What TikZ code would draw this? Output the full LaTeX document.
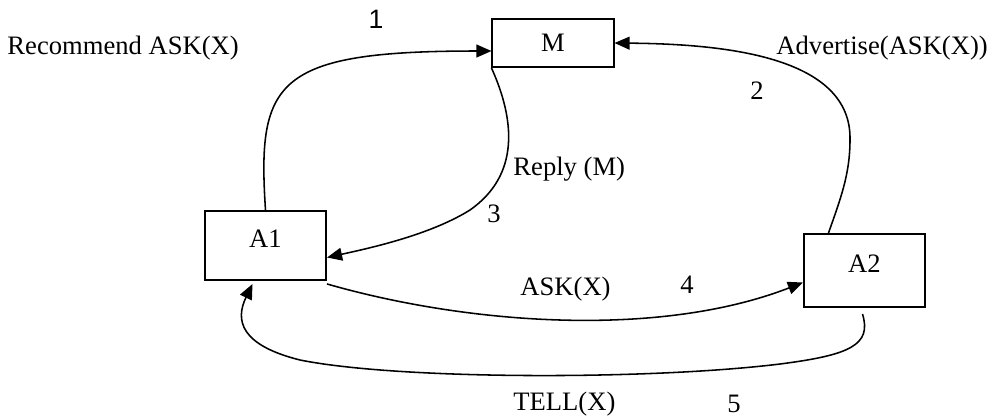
\documentclass[tikz,border=0pt]{standalone}
\usepackage{fontspec}
\setmainfont{Liberation Serif}
\newfontfamily\numfont{Liberation Sans}
\usepackage{tikz}
\usetikzlibrary{arrows.meta, calc}

\begin{document}
\begin{tikzpicture}[x=0.451pt, y=-0.451pt,
        every node/.style={font=\fontsize{12}{14}\selectfont},
        agent/.style={draw, line width=0.9pt, inner sep=0pt, minimum width=54.6pt},
        msglabel/.style={anchor=base west, inner sep=0pt},
        flow/.style={-{Triangle[length=6.8pt, width=5.8pt]}, line width=0.7pt}]
            \useasboundingbox (0,0) rectangle (990,417);

            % agents
            \node[agent, minimum height=21.6pt] at (553, 43)    (m)  {M};
            \node[agent, minimum height=31.1pt, text depth=6.4pt] at (265.5, 245.5) (a1) {A1};
            \node[agent, minimum height=32.9pt, text depth=6.4pt] at (864.5, 270.5) (a2) {A2};

            % messages
            \draw [flow] (a1.north) .. controls (257, 81) and (275, 51) .. ($(m.west)+(0,8)$);
            \draw [flow] ($(a2.north)+(-36,0)$) .. controls (840, 200) and (850, 175) .. (850, 140)
                .. controls (852, 55) and (720, 44) .. (m.east);
            \draw [flow] (m.south west) .. controls (515, 120) and (520, 175) .. (470, 210)
                .. controls (430, 235) and (370, 248) .. ($(a1.east)+(0,12)$);
            \draw [flow] ($(a1.south east)+(0,3)$) .. controls (470, 325) and (660, 338) .. ($(a2.west)+(0,12)$);
            \draw [flow] ($(a2.south)+(-2,6)$) .. controls (872, 345) and (850, 355) .. (780, 364)
                .. controls (650, 380) and (400, 380) .. (300, 360)
                .. controls (240, 345) and (235, 320) .. ($(a1.south)+(-13,3)$);

            % labels
            \node[msglabel] at (7, 54)    (recask)  {Recommend ASK(X)};
            \node[msglabel] at (776, 54)  (advask)  {Advertise(ASK(X))};
            \node[msglabel] at (513, 175) (replym)  {Reply (M)};
            \node[msglabel] at (520, 295) (askx)    {ASK(X)};
            \node[msglabel] at (513, 410) (tellx)   {TELL(X)};
            \node[font=\numfont\fontsize{12}{14}\selectfont] at (376, 19) (n1) {1};
            \node[anchor=base] at (757, 99)  (n2) {2};
            \node[anchor=base] at (494, 222) (n3) {3};
            \node[anchor=base] at (687, 293) (n4) {4};
            \node[anchor=base] at (734, 412) (n5) {5};
        \end{tikzpicture}
\end{document}
